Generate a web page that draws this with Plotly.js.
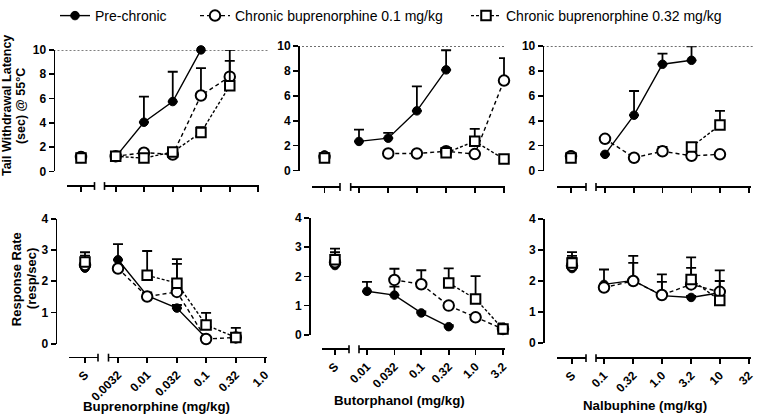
<!DOCTYPE html>
<html><head><meta charset="utf-8">
<script src="https://cdn.plot.ly/plotly-3.0.1.min.js"></script>
<style>html,body{margin:0;padding:0;background:#fff}</style>
</head><body>
<div id="chart" style="width:757px;height:415px"></div>
<script>
// ---------- tick labels / categories ----------
const SERIES_NAMES = ['Pre-chronic', 'Chronic buprenorphine 0.1 mg/kg', 'Chronic buprenorphine 0.32 mg/kg'];
const DRUG_TITLES = ['Buprenorphine (mg/kg)', 'Butorphanol (mg/kg)', 'Nalbuphine (mg/kg)'];
const S_LABEL = 'S';
const BUP_DOSES = [0.0032, 0.01, 0.032, 0.1, 0.32, 1.0];
const BUP_LABELS = ['0.0032', '0.01', '0.032', '0.1', '0.32', '1.0'];
const BUT_DOSES = [0.01, 0.032, 0.1, 0.32, 1.0, 3.2];
const BUT_LABELS = ['0.01', '0.032', '0.1', '0.32', '1.0', '3.2'];
const NAL_DOSES = [0.1, 0.32, 1.0, 3.2, 10, 32];
const NAL_LABELS = ['0.1', '0.32', '1.0', '3.2', '10', '32'];
const TWL_TICKS = [0, 2, 4, 6, 8, 10];
const RR_TICKS = [0, 1, 2, 3, 4];
const TWL_CUTOFF = 10;

// ---------- Tail withdrawal latency: Buprenorphine ----------
const twlBupS_Y = [1.3, 1.2, 1.1];      // pre, 0.1, 0.32 at saline
const twlBupS_E = [0.12, 0.1, 0.12];
const twlBupPreX = [0.0032, 0.01, 0.032, 0.1];
const twlBupPreY = [1.2, 4.05, 5.75, 10.0];
const twlBupPreE = [0.1, 2.1, 2.45, 0];
const twlBupC1X = [0.0032, 0.01, 0.032, 0.1, 0.32];
const twlBupC1Y = [1.25, 1.55, 1.4, 6.25, 7.8];
const twlBupC1E = [0.05, 0.15, 0.1, 2.25, 2.2];
const twlBupC2X = [0.0032, 0.01, 0.032, 0.1, 0.32];
const twlBupC2Y = [1.25, 1.1, 1.6, 3.2, 7.05];
const twlBupC2E = [0.05, 0.1, 0.1, 0.45, 2.05];

// ---------- Tail withdrawal latency: Butorphanol ----------
const twlButS_Y = [1.25, 1.1, 1.0];
const twlButS_E = [0.12, 0.1, 0.12];
const twlButPreX = [0.01, 0.032, 0.1, 0.32];
const twlButPreY = [2.34, 2.6, 4.8, 8.1];
const twlButPreE = [0.95, 0.43, 1.97, 1.58];
const twlButC1X = [0.032, 0.1, 0.32, 1.0, 3.2];
const twlButC1Y = [1.37, 1.37, 1.55, 1.32, 7.24];
const twlButC1E = [0.05, 0.05, 0.1, 0.1, 1.8];
const twlButC2X = [0.32, 1.0, 3.2];
const twlButC2Y = [1.42, 2.35, 0.92];
const twlButC2E = [0.1, 1.0, 0.15];

// ---------- Tail withdrawal latency: Nalbuphine ----------
const twlNalS_Y = [1.25, 1.15, 1.0];
const twlNalS_E = [0.12, 0.1, 0.12];
const twlNalPreX = [0.1, 0.32, 1.0, 3.2];
const twlNalPreY = [1.3, 4.45, 8.55, 8.87];
const twlNalPreE = [0, 1.95, 0.85, 1.13];
const twlNalC1X = [0.1, 0.32, 1.0, 3.2, 10];
const twlNalC1Y = [2.55, 1.03, 1.55, 1.18, 1.3];
const twlNalC1E = [0.05, 0.05, 0.35, 0.05, 0.05];
const twlNalC2X = [3.2, 10];
const twlNalC2Y = [1.9, 3.66];
const twlNalC2E = [0.1, 1.14];

// ---------- Response rate: Buprenorphine ----------
const rrBupS_Y = [2.42, 2.52, 2.62];
const rrBupS_E = [0.3, 0.3, 0.31];
const rrBupPreX = [0.0032, 0.01, 0.032, 0.1];
const rrBupPreY = [2.69, 1.54, 1.14, 0.18];
const rrBupPreE = [0.5, 0.1, 0.1, 0.05];
const rrBupC1X = [0.0032, 0.01, 0.032, 0.1, 0.32];
const rrBupC1Y = [2.41, 1.51, 1.66, 0.15, 0.2];
const rrBupC1E = [0.05, 0.1, 0.9, 0.1, 0.1];
const rrBupC2X = [0.01, 0.032, 0.1, 0.32];
const rrBupC2Y = [2.19, 1.94, 0.6, 0.2];
const rrBupC2E = [0.78, 0.77, 0.39, 0.31];

// ---------- Response rate: Butorphanol ----------
const rrButS_Y = [2.37, 2.48, 2.57];
const rrButS_E = [0.37, 0.35, 0.38];
const rrButPreX = [0.01, 0.032, 0.1, 0.32];
const rrButPreY = [1.49, 1.36, 0.75, 0.28];
const rrButPreE = [0.32, 0.29, 0.05, 0.05];
const rrButC1X = [0.032, 0.1, 0.32, 1.0, 3.2];
const rrButC1Y = [1.88, 1.73, 1.0, 0.6, 0.2];
const rrButC1E = [0.38, 0.48, 0.1, 0.1, 0.1];
const rrButC2X = [0.32, 1.0, 3.2];
const rrButC2Y = [1.77, 1.23, 0.2];
const rrButC2E = [0.5, 0.78, 0.19];

// ---------- Response rate: Nalbuphine ----------
const rrNalS_Y = [2.4, 2.49, 2.58];
const rrNalS_E = [0.34, 0.32, 0.35];
const rrNalPreX = [0.1, 0.32, 1.0, 3.2, 10];
const rrNalPreY = [1.89, 2.02, 1.53, 1.47, 1.62];
const rrNalPreE = [0.48, 0.79, 0.68, 0.05, 0.05];
const rrNalC1X = [0.1, 0.32, 1.0, 3.2, 10];
const rrNalC1Y = [1.79, 2.0, 1.55, 1.89, 1.65];
const rrNalC1E = [0.05, 0.58, 0.42, 0.53, 0.35];
const rrNalC2X = [3.2, 10];
const rrNalC2Y = [2.05, 1.37];
const rrNalC2E = [0.71, 0.97];

// ---------- assemble panels (data references only) ----------
const PANEL_DATA = [
  {doses: BUP_DOSES, labels: BUP_LABELS, yTicks: TWL_TICKS, sY: twlBupS_Y, sE: twlBupS_E,
   series: [[twlBupPreX, twlBupPreY, twlBupPreE], [twlBupC1X, twlBupC1Y, twlBupC1E], [twlBupC2X, twlBupC2Y, twlBupC2E]]},
  {doses: BUT_DOSES, labels: BUT_LABELS, yTicks: TWL_TICKS, sY: twlButS_Y, sE: twlButS_E,
   series: [[twlButPreX, twlButPreY, twlButPreE], [twlButC1X, twlButC1Y, twlButC1E], [twlButC2X, twlButC2Y, twlButC2E]]},
  {doses: NAL_DOSES, labels: NAL_LABELS, yTicks: TWL_TICKS, sY: twlNalS_Y, sE: twlNalS_E,
   series: [[twlNalPreX, twlNalPreY, twlNalPreE], [twlNalC1X, twlNalC1Y, twlNalC1E], [twlNalC2X, twlNalC2Y, twlNalC2E]]},
  {doses: BUP_DOSES, labels: BUP_LABELS, yTicks: RR_TICKS, sY: rrBupS_Y, sE: rrBupS_E,
   series: [[rrBupPreX, rrBupPreY, rrBupPreE], [rrBupC1X, rrBupC1Y, rrBupC1E], [rrBupC2X, rrBupC2Y, rrBupC2E]]},
  {doses: BUT_DOSES, labels: BUT_LABELS, yTicks: RR_TICKS, sY: rrButS_Y, sE: rrButS_E,
   series: [[rrButPreX, rrButPreY, rrButPreE], [rrButC1X, rrButC1Y, rrButC1E], [rrButC2X, rrButC2Y, rrButC2E]]},
  {doses: NAL_DOSES, labels: NAL_LABELS, yTicks: RR_TICKS, sY: rrNalS_Y, sE: rrNalS_E,
   series: [[rrNalPreX, rrNalPreY, rrNalPreE], [rrNalC1X, rrNalC1Y, rrNalC1E], [rrNalC2X, rrNalC2Y, rrNalC2E]]}
];

// ---------- geometry (pixels) ----------
const W = 757, H = 415;
const fx = v => v / W;
const fy = v => 1 - v / H;
const GEOM = [
  {yx: 53.5, yTop: 42.7, yBot: 166.7, axY: 180.5, sA: 67, sB: 94.5, sT: 81, dA: 104.5, dB: 259, t0: 115.7, t1: 258, dotEnd: 268},
  {yx: 298, yTop: 39, yBot: 165.7, axY: 181.5, sA: 311.7, sB: 340, sT: 324.5, dA: 350.7, dB: 505, t0: 359, t1: 504, dotEnd: 505},
  {yx: 542.7, yTop: 39, yBot: 165.7, axY: 181.5, sA: 557, sB: 586, sT: 571, dA: 596, dB: 751, t0: 605, t1: 749, dotEnd: 753},
  {yx: 55.5, yTop: 215, yBot: 342.3, axY: 355.5, sA: 69, sB: 98, sT: 85, dA: 108.5, dB: 267, t0: 118, t1: 265},
  {yx: 309, yTop: 214, yBot: 333.3, axY: 347, sA: 322, sB: 349, sT: 335, dA: 359, dB: 505, t0: 367, t1: 503},
  {yx: 543, yTop: 215, yBot: 341.7, axY: 356, sA: 557, sB: 586, sT: 572, dA: 596, dB: 751, t0: 604, t1: 749}
];
const FONT = 'Arial, "Liberation Sans", sans-serif';
const STYLES = [
  {marker: {symbol: 'circle', size: 8.5, color: 'black', line: {color: 'black', width: 1}}, line: {color: 'black', width: 1.4, dash: 'solid'}},
  {marker: {symbol: 'circle', size: 10.5, color: 'white', line: {color: 'black', width: 2}}, line: {color: 'black', width: 1.4, dash: '4px,3px'}},
  {marker: {symbol: 'square', size: 9.5, color: 'white', line: {color: 'black', width: 2}}, line: {color: 'black', width: 1.4, dash: '3px,2px'}}
];
const LEGENDS = ['legend', 'legend2', 'legend3'];

const traces = [];
const layout = {
  width: W, height: H,
  margin: {l: 0, r: 0, t: 0, b: 0},
  paper_bgcolor: 'white', plot_bgcolor: 'white',
  font: {family: FONT, color: 'black'},
  showlegend: true,
  shapes: [], annotations: []
};

function errObj(e) {
  return {type: 'data', symmetric: false, array: e, arrayminus: e.map(() => 0),
          color: 'black', thickness: 1.8, width: 5};
}

PANEL_DATA.forEach((pd, p) => {
  const g = GEOM[p];
  const top = p < 3;
  const yId = 'y' + (p + 1);
  const yKey = 'yaxis' + (p + 1);
  const sIdx = 2 * p + 1, dIdx = 2 * p + 2;
  const sId = 'x' + sIdx, dId = 'x' + dIdx;
  const yMax = pd.yTicks[pd.yTicks.length - 1];

  layout[yKey] = {
    domain: [fy(g.yBot), fy(g.yTop)], range: [0, yMax],
    anchor: 'free', position: fx(g.yx),
    showline: true, linecolor: 'black', linewidth: 1.6,
    ticks: 'outside', ticklen: 5, tickwidth: 1.6, tickcolor: 'black',
    tickvals: pd.yTicks, showgrid: false, zeroline: false,
    tickfont: {family: FONT, size: 12, weight: 'bold', color: 'black'}
  };
  // S (saline) segment
  const k = 10;
  layout['xaxis' + sIdx] = {
    domain: [fx(g.sA), fx(g.sB)], anchor: 'free', position: fy(g.axY),
    type: 'category', range: [-(g.sT - g.sA) / k, (g.sB - g.sT) / k],
    showline: true, linecolor: 'black', linewidth: 1.6,
    ticks: 'outside', ticklen: 5, tickwidth: 1.6, tickcolor: 'black',
    tickvals: [S_LABEL], ticktext: [S_LABEL], showticklabels: !top, tickangle: -45,
    showgrid: false, zeroline: false,
    tickfont: {family: FONT, size: 12, weight: 'bold', color: 'black'}
  };
  // dose segment (log)
  const l0 = Math.log10(pd.doses[0]), l1 = Math.log10(pd.doses[pd.doses.length - 1]);
  const dec = (g.t1 - g.t0) / (l1 - l0);
  layout['xaxis' + dIdx] = {
    domain: [fx(g.dA), fx(g.dB)], anchor: 'free', position: fy(g.axY),
    type: 'log', range: [l0 - (g.t0 - g.dA) / dec, l1 + (g.dB - g.t1) / dec],
    showline: true, linecolor: 'black', linewidth: 1.6,
    ticks: 'outside', ticklen: 5, tickwidth: 1.6, tickcolor: 'black',
    tickvals: pd.doses, ticktext: pd.labels, showticklabels: !top, tickangle: -45,
    showgrid: false, zeroline: false,
    tickfont: {family: FONT, size: 12, weight: 'bold', color: 'black'}
  };
  // axis-break bars
  [g.sB, g.dA].forEach(xv => layout.shapes.push({
    type: 'line', xref: 'paper', yref: 'paper', x0: fx(xv), x1: fx(xv),
    y0: fy(g.axY - 3), y1: fy(g.axY + 5), line: {color: 'black', width: 1.6}
  }));
  // cutoff line for latency panels
  if (top) {
    layout.shapes.push({type: 'line', xref: 'paper', yref: yId, x0: fx(g.yx), x1: fx(g.dotEnd),
      y0: TWL_CUTOFF, y1: TWL_CUTOFF, line: {color: 'black', width: 1.1, dash: '2px,2px'}});
  }

  pd.series.forEach((s, si) => {
    const st = STYLES[si];
    // saline point
    traces.push({
      type: 'scatter', mode: 'markers', x: [S_LABEL], y: [pd.sY[si]], xaxis: sId, yaxis: yId,
      marker: st.marker, error_y: errObj([pd.sE[si]]), showlegend: false, cliponaxis: false,
      legendgroup: 'g' + si, hoverinfo: 'skip'
    });
    // dose-response
    traces.push({
      type: 'scatter', mode: 'lines+markers', x: s[0], y: s[1], xaxis: dId, yaxis: yId,
      name: SERIES_NAMES[si], marker: st.marker, line: st.line, error_y: errObj(s[2]),
      showlegend: p === 0, legend: LEGENDS[si], legendgroup: 'g' + si, cliponaxis: false
    });
  });
});

// legends
const legendX = [55, 195, 466];
LEGENDS.forEach((lg, i) => {
  layout[lg] = {x: fx(legendX[i]), y: fy(8), xanchor: 'left', yanchor: 'middle',
    orientation: 'h', bgcolor: 'rgba(0,0,0,0)', borderwidth: 0, itemwidth: 30,
    font: {family: FONT, size: 14, color: 'black'}};
});

// axis titles
const ann = (text, x, y, size, angle) => layout.annotations.push({
  text: '<b>' + text + '</b>', xref: 'paper', yref: 'paper', x: fx(x), y: fy(y),
  xanchor: 'center', yanchor: 'middle', showarrow: false, textangle: angle,
  font: {family: FONT, size: size, color: 'black'}
});
ann('Tail Withdrawal Latency', 7, 100, 12.5, -90);
ann('(sec) @ 55°C', 21, 100, 12.5, -90);
ann('Response Rate', 16.5, 277, 13, -90);
ann('(resp/sec)', 31.5, 276, 13, -90);
ann(DRUG_TITLES[0], 156, 406.5, 13.3, 0);
ann(DRUG_TITLES[1], 399, 400, 13.3, 0);
ann(DRUG_TITLES[2], 645, 405, 13.3, 0);

Plotly.newPlot('chart', traces, layout, {staticPlot: true, displayModeBar: false});
</script>
</body></html>
